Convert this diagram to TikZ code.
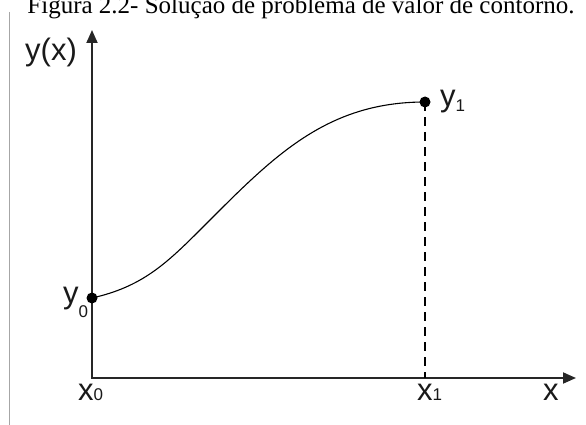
\documentclass[tikz,border=0pt]{standalone}
\usepackage{fontspec}
\setmainfont{Liberation Serif}
\newfontfamily\labelfont{Liberation Sans}
\usetikzlibrary{arrows.meta}
\newcommand{\subd}[2][0pt]{\raisebox{-#1}{\fontsize{17}{17}\selectfont #2}}

\begin{document}
\begin{tikzpicture}[x=1pt, y=-1pt,
    axis/.style={line width=1.8pt, draw=black!85, {Triangle[length=13pt,width=11pt]}-{Triangle[length=13pt,width=11pt]}},
    dot/.style={circle, fill=black, inner sep=0pt, minimum size=11pt},
    lbl/.style={inner sep=0pt, anchor=base west, text=black!90, font=\labelfont\fontsize{31}{31}\selectfont}]
    \useasboundingbox (0,0) rectangle (586,425);
    % caption, cut at the top
    \node[inner sep=0pt, anchor=base, font=\fontsize{25}{25}\selectfont] (cap) at (301,14) {Figura 2.2- Solução de problema de valor de contorno.};
    % frame edge
    \draw[black!35, line width=1pt] (9,12) -- (9,425);
    % axes
    \coordinate (O) at (92,378);
    \coordinate (ytip) at (92,30);
    \coordinate (xtip) at (576,378);
    \draw[axis] (ytip) -- (O) -- (xtip);
    % boundary points
    \node[dot] (y0) at (92,298) {};
    \node[dot] (y1) at (425,102) {};
    \draw[line width=1.4pt, dash pattern=on 9pt off 6pt] (y1.center) -- (y1 |- O);
    % solution curve
    \draw[line width=1.1pt] (y0.center) .. controls (141,287) and (165,265) .. (200,230)
        .. controls (271,159) and (324,102) .. (y1.center);
    % labels
    \node[lbl] (ylab) at (25,61) {y(x)};
    \node[lbl] (y0lab) at (63,303) {y\subd[14pt]{0}};
    \node[lbl] (y1lab) at (440,107) {y\subd[5pt]{1}};
    \node[lbl] (x0lab) at (78,400) {x\subd{0}};
    \node[lbl] (x1lab) at (417,400) {x\subd{1}};
    \node[lbl] (xlab) at (543,400) {x};
\end{tikzpicture}
\end{document}
